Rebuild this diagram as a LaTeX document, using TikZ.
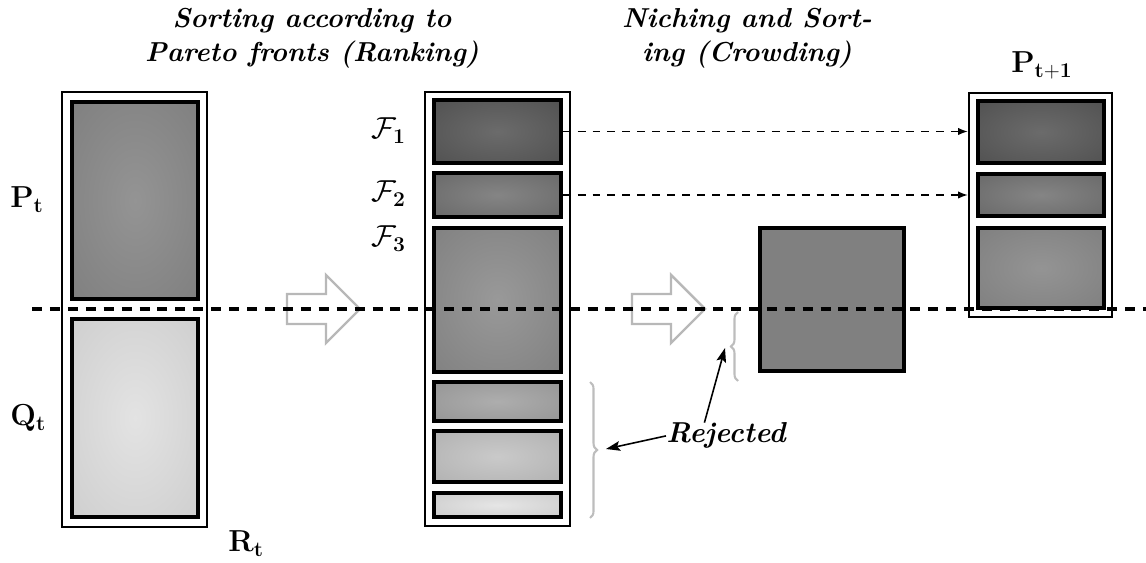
\documentclass[tikz,border=0pt]{standalone}
\usetikzlibrary{arrows.meta,decorations.pathreplacing,fit,calc}

% radial glow that fades to the outer colour right at the box edges
\makeatletter
\pgfdeclareradialshading[tikz@radial@inner,tikz@radial@outer]{glow}{\pgfpoint{0bp}{0bp}}{%
  color(0bp)=(tikz@radial@inner); color(50bp)=(tikz@radial@outer)}
\makeatother

\definecolor{arrowgray}{HTML}{B8B8B8}
\definecolor{bracegray}{HTML}{BDBDBD}

\tikzset{
  frame/.style={draw=black, line width=1.45pt, fill=white, inner sep=0pt},
  cell/.style n args={2}{draw=black, line width=1.9pt, inner sep=0pt,
    inner color=#1, outer color=#2, shading=glow},
  flatcell/.style={draw=black, line width=1.9pt, inner sep=0pt, fill={rgb,255:red,128;green,128;blue,128}},
  caption/.style={font=\fontsize{15.6}{19.3}\selectfont\bfseries\itshape, align=center, inner sep=0pt},
  lab/.style={font=\fontsize{17}{19}\selectfont, inner sep=0pt, anchor=base west},
  cut/.style={line width=1.9pt, dash pattern=on 5.7pt off 4.5pt},
  carry/.style={line width=0.75pt, dash pattern=on 4.5pt off 4pt, -{Latex[length=5.5pt,width=4.2pt]}},
  hollow/.style={draw=arrowgray, line width=1.4pt, line join=miter},
  grbrace/.style={draw=bracegray, line width=1.2pt, decorate, decoration={brace, amplitude=4pt}},
  pointer/.style={line width=0.9pt, -{Stealth[length=8pt,width=5.5pt,inset=1.5pt]}},
}

\begin{document}
\begin{tikzpicture}[x=0.02cm, y=-0.02cm]
\useasboundingbox (0,0) rectangle (1146,563);

% ---- R_t = P_t + Q_t
\node[frame, fit={(62,92) (207,527)}] (Rbox) {};
\node[cell={black!42}{black!53}, fit={(72,102) (198,299)}] (P) {};
\node[cell={black!11}{black!22}, fit={(72,319) (198,517)}] (Q) {};

% ---- fronts after non-dominated sorting
\node[frame, fit={(425,92) (570,526)}] (Mbox) {};
\node[cell={black!58}{black!72}, fit={(434,100) (561,163)}] (F1) {};
\node[cell={black!48}{black!63}, fit={(434,173) (561,217)}] (F2) {};
\node[cell={black!40}{black!53}, fit={(434,228) (561,372)}] (F3) {};
\node[cell={black!32}{black!45}, fit={(434,382) (561,421)}] (R1) {};
\node[cell={black!21}{black!34}, fit={(434,431) (561,482)}] (R2) {};
\node[cell={black!10}{black!24}, fit={(434,493) (561,517)}] (R3) {};

% ---- crowding-distance selection out of F3
\node[flatcell, fit={(760,228) (904,371)}] (C) {};

% ---- next population
\node[frame, fit={(969,93) (1112,317)}] (Nbox) {};
\node[cell={black!58}{black!72}, fit={(978,101) (1104,163)}] (G1) {};
\node[cell={black!48}{black!63}, fit={(978,174) (1104,216)}] (G2) {};
\node[cell={black!42}{black!53}, fit={(978,228) (1104,308)}] (G3) {};

% ---- labels
\node[lab] (lP) at (10,208) {$\mathbf{P}_{\mathbf{t}}$};
\node[lab] (lQ) at (10,426) {$\mathbf{Q}_{\mathbf{t}}$};
\node[lab] (lR) at (228,552) {$\mathbf{R}_{\mathbf{t}}$};
\node[lab] (lN) at (1011,73) {$\mathbf{P}_{\mathbf{t+1}}$};
\node[lab] (lF1) at (371,139) {$\mathcal{F}_{\mathbf{1}}$};
\node[lab] (lF2) at (371,202) {$\mathcal{F}_{\mathbf{2}}$};
\node[lab] (lF3) at (371,247) {$\mathcal{F}_{\mathbf{3}}$};

\node[caption] (cap1) at (312,38) {Sorting according to\\Pareto fronts (Ranking)};
\node[caption] (cap2) at (747,38) {Niching and Sort-\\ing (Crowding)};

% ---- hollow process arrows
\foreach \x in {287, 632}{
  \draw[hollow] (\x,294) -- ++(39,0) -- ++(0,-19) -- ++(34,34) -- ++(-34,34)
    -- ++(0,-19) -- ++(-39,0) -- cycle;
}

% ---- fronts carried over unchanged
\draw[carry] (F1.east) -- (F1.east -| Nbox.west);
\draw[carry] (F2.east) -- (F2.east -| Nbox.west);

% ---- rejected parts
\coordinate (bigTop) at (590,382);
\coordinate (bigBot) at (590,518);
\coordinate (smTop) at (738,312);
\coordinate (smBot) at (738,381);
\coordinate (bigTip) at (606,449);
\coordinate (smTip) at (725,348);
\draw[grbrace] (bigTop) -- (bigBot);
\draw[grbrace] (smBot) -- (smTop);

\node[caption, font=\fontsize{16.4}{19}\selectfont\bfseries\itshape, anchor=base west] (rej) at (666,443) {Rejected};
\draw[pointer] (rej.west) -- (bigTip);
\draw[pointer] ($(rej.north west)!0.32!(rej.north east)$) -- (smTip);

% ---- population size cut
\coordinate (cutL) at (32,309);
\coordinate (cutR) at (1146,309);
\draw[cut] (cutL) -- (cutR);
\end{tikzpicture}
\end{document}
